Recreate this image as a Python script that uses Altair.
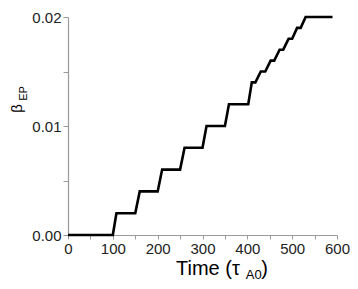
import altair as alt
import pandas as pd

# data
time = [0, 100, 108, 150, 160, 200, 210, 250, 260, 300, 309, 350, 359, 402, 410,
        418, 430, 440, 452, 460, 472, 480, 492, 500, 511, 519, 530, 590]
beta = [0.0, 0.0, 0.002, 0.002, 0.004, 0.004, 0.006, 0.006, 0.008, 0.008, 0.010,
        0.010, 0.012, 0.012, 0.014, 0.014, 0.015, 0.015, 0.016, 0.016, 0.017,
        0.017, 0.018, 0.018, 0.019, 0.019, 0.020, 0.020]
x_ticks = list(range(0, 601, 50))
y_ticks = [0.0, 0.005, 0.01, 0.015, 0.02]

df = pd.DataFrame({"t": time, "b": beta})

W, H = 269, 218
FONT = "Liberation Sans"
AX = "#9a9a9a"

xscale = alt.Scale(domain=[0, 600], nice=False, zero=False)
yscale = alt.Scale(domain=[0, 0.02], nice=False)

line = alt.Chart(df).mark_line(color="black", strokeWidth=2.6, strokeJoin="miter").encode(
    x=alt.X("t:Q", scale=xscale,
            axis=alt.Axis(values=x_ticks, title=None, grid=False,
                          labelExpr="datum.value % 100 === 0 ? datum.label : ''",
                          labelFont=FONT, labelFontSize=15, labelColor="#222",
                          labelPadding=2, labelOverlap=False, labelFlush=False,
                          labelBound=False,
                          domainColor=AX, tickColor=AX, tickSize=4, domainWidth=1.2)),
    y=alt.Y("b:Q", scale=yscale,
            axis=alt.Axis(values=y_ticks, title=None, grid=False,
                          labelExpr="round(datum.value*1000) % 10 === 0 ? format(datum.value, '.2f') : ''",
                          labelFont=FONT, labelFontSize=15, labelColor="#222",
                          labelPadding=2, labelOverlap=False, labelFlush=False,
                          labelBound=False,
                          domainColor=AX, tickColor=AX, tickSize=5, domainWidth=1.2)),
)

def txt(s, x, y, size, angle=0, align="left"):
    return alt.Chart(pd.DataFrame({"s": [s]})).mark_text(
        font=FONT, fontSize=size, color="black", align=align,
        baseline="alphabetic", angle=angle
    ).encode(text="s:N", x=alt.value(x), y=alt.value(y))

titles = (
    txt("Time (\u03c4", 108, 258, 20)
    + txt("A0", 177.8, 262, 13)
    + txt(")", 193.3, 258, 20)
    + txt("\u03b2", -46, 91.5, 15, angle=270, align="center")
    + txt("EP", -41, 76.5, 11, angle=270, align="center")
)

chart = alt.layer(line, titles).properties(
    width=W, height=H,
    autosize=alt.AutoSizeParams(type="none"),
    padding={"left": 60, "top": 9, "right": 13, "bottom": 46},
).configure_view(stroke=None)

chart.save("out.html", embed_options={"renderer": "svg", "actions": False})
